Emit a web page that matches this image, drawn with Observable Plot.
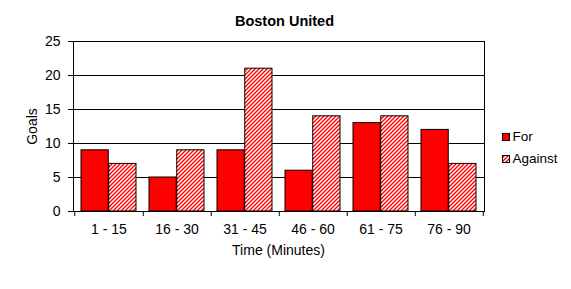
<!DOCTYPE html>
<html>
<head>
<meta charset="utf-8">
<script src="https://cdn.jsdelivr.net/npm/d3@7"></script>
<script src="https://cdn.jsdelivr.net/npm/@observablehq/plot@0.6"></script>
<style>
  html, body { margin: 0; padding: 0; background: #fff; }
  #chart svg { display: block; }
</style>
</head>
<body>
<div id="chart"></div>
<script>
const categories = ["1 - 15", "16 - 30", "31 - 45", "46 - 60", "61 - 75", "76 - 90"];
const goalsFor = [9, 5, 9, 6, 13, 12];
const goalsAgainst = [7, 9, 21, 14, 14, 7];
const yTicks = [0, 5, 10, 15, 20, 25];
const seriesNames = ["For", "Against"];
const titleText = "Boston United";
const xLabel = "Time (Minutes)";
const yLabel = "Goals";

const data = categories.map((c, i) => ({c, for: goalsFor[i], against: goalsAgainst[i]}));

const W = 571, H = 289, ml = 73, mr = 87, mt = 41, mb = 78;
const padInner = 0.19, padOuter = 0.095;
const step = (W - ml - mr) / (categories.length - padInner + 2 * padOuter);
const bw = step * (1 - padInner);
const half = bw / 2;
const gapStep = (W - ml - mr) / categories.length;
const font = "'Liberation Sans', Arial, sans-serif";

const chart = Plot.plot({
  width: W, height: H,
  marginLeft: ml, marginRight: mr, marginTop: mt, marginBottom: mb,
  style: {fontFamily: font, fontSize: "14px", color: "black", background: "white"},
  x: {type: "band", domain: categories, paddingInner: padInner, paddingOuter: padOuter},
  y: {domain: [0, 25]},
  marks: [
    Plot.ruleY(yTicks, {stroke: "black", strokeWidth: 1}),
    Plot.barY(data, {x: "c", y: "for", fill: "#ff0000", stroke: "black", strokeWidth: 1, insetRight: half}),
    Plot.barY(data, {x: "c", y: "against", fill: "url(#hatch)", stroke: "black", strokeWidth: 1, insetLeft: half}),
    Plot.frame({stroke: "black", strokeWidth: 1}),
    Plot.axisY({ticks: yTicks, tickSize: 5, tickPadding: 8, label: null, stroke: "black", fill: "black", strokeOpacity: 1}),
    Plot.axisX({tickSize: 0, tickPadding: 13, label: null, fill: "black"}),
    Plot.axisX({tickSize: 5, tickFormat: () => "", label: null, dx: gapStep / 2, stroke: "black", strokeOpacity: 1}),
    Plot.axisX({ticks: [categories[0]], tickSize: 5, tickFormat: () => "", label: null, dx: -gapStep / 2, stroke: "black", strokeOpacity: 1})
  ]
});

const svg = d3.select(chart);
const defs = svg.insert("defs", ":first-child");
const pat = defs.append("pattern")
  .attr("id", "hatch").attr("patternUnits", "userSpaceOnUse")
  .attr("width", 4).attr("height", 4);
pat.append("rect").attr("width", 4).attr("height", 4).attr("fill", "white");
pat.append("path").attr("d", "M-1,1 L1,-1 M0,4 L4,0 M3,5 L5,3")
  .attr("stroke", "#ff0000").attr("stroke-width", 1.4);

svg.append("text").attr("x", 284.5).attr("y", 25.5).attr("text-anchor", "middle")
  .attr("font-family", font).attr("font-size", 14.5).attr("font-weight", "bold")
  .attr("fill", "black").text(titleText);

svg.append("text").attr("x", (ml + W - mr) / 2).attr("y", 255).attr("text-anchor", "middle")
  .attr("font-family", font).attr("font-size", 14).attr("fill", "black").text(xLabel);

svg.append("text").attr("transform", "translate(37,126.5) rotate(-90)").attr("text-anchor", "middle")
  .attr("font-family", font).attr("font-size", 14).attr("fill", "black").text(yLabel);

const legendFills = ["#ff0000", "url(#hatch)"];
const lg = svg.append("g").attr("font-family", font).attr("font-size", 13.5).attr("text-anchor", "start");
seriesNames.forEach((name, i) => {
  const y0 = 133 + i * 22;
  lg.append("rect").attr("x", 502.5).attr("y", y0 + 0.5).attr("width", 7).attr("height", 7)
    .attr("fill", legendFills[i]).attr("stroke", "black").attr("stroke-width", 1);
  lg.append("text").attr("x", 512.5).attr("y", y0 + 8).attr("text-anchor", "start").attr("fill", "black").text(name);
});

document.getElementById("chart").appendChild(chart);
</script>
</body>
</html>
